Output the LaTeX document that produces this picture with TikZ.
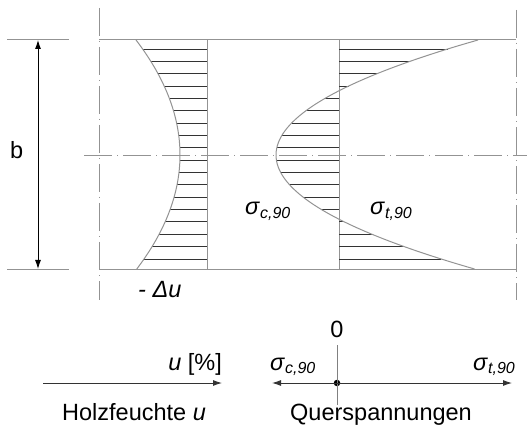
\documentclass[tikz,border=0pt]{standalone}
\usepackage{fontspec}
\setmainfont{Liberation Sans}
\usetikzlibrary{arrows.meta,positioning,calc}

% sigma with subscript index
\newcommand{\sigidx}[1]{\textit{σ}\raisebox{-0.3ex}{\fontsize{16}{16}\selectfont\textit{#1,90}}}

\begin{document}
\begin{tikzpicture}[
  x=1pt, y=-1pt,
  >={Latex[length=9pt,width=6pt]},
  font=\fontsize{23.5}{26}\selectfont,
  frame/.style={draw=gray!85, line width=1pt},
  axisline/.style={draw=gray!85, line width=0.9pt, dash pattern=on 28pt off 5pt on 1pt off 5pt},
  hatch/.style={draw=black!80, line width=0.8pt},
  curve/.style={draw=gray!85, line width=1pt},
  dim/.style={<->, line width=0.9pt},
  arr/.style={->, line width=0.9pt, draw=black!80},
  lbl/.style={inner sep=0pt},
]
\useasboundingbox (0,0) rectangle (527,430);

% Cross section edges
\coordinate (tl) at (99,40);
\coordinate (tr) at (516,40);
\coordinate (bl) at (99,269);
\coordinate (br) at (516,269);
\draw[frame] (tl) -- (tr);
\draw[frame] (bl) -- (br);

% Dimension b
\coordinate (et1) at (7,40);
\coordinate (et2) at (69,40);
\coordinate (eb1) at (7,269);
\coordinate (eb2) at (69,269);
\draw[frame] (et1) -- (et2);
\draw[frame] (eb1) -- (eb2);
\coordinate (dt) at (38,40);
\coordinate (db) at (38,269);
\draw[dim] (dt) -- (db);
\node[lbl, anchor=base west] (b) at (10,159) {b};

% Centre lines
\coordinate (cl1) at (99,8);
\coordinate (cl2) at (99,300);
\coordinate (cr1) at (516,10);
\coordinate (cr2) at (516,300);
\coordinate (ch1) at (84,155);
\coordinate (ch2) at (527,155);
\draw[axisline] (cl1) -- (cl2);
\draw[axisline] (cr1) -- (cr2);
\draw[axisline] (ch1) -- (ch2);

% Base lines of the two profiles
\coordinate (ut) at (207,40);
\coordinate (ub) at (207,269);
\coordinate (st) at (339,40);
\coordinate (sb) at (339,269);
\draw[frame] (ut) -- (ub);
\draw[frame] (st) -- (sb);

% Hatching
\foreach \k in {0,...,17} {
  \pgfmathsetmacro\yy{49+12.35*\k}
  \draw[hatch] ({180-0.00333*(\yy-155)^2},\yy) -- (207,\yy);
  \draw[hatch] (339,\yy) -- ({276+0.01527*(\yy-155)^2},\yy);
}

% Profiles
\draw[curve] plot[domain=40:269, samples=40, smooth] ({180-0.00333*(\x-155)^2},\x);
\draw[curve] plot[domain=40:269, samples=40, smooth] ({276+0.01527*(\x-155)^2},\x);

% Labels
\node[lbl, anchor=base west] (sc) at (245,215) {\sigidx{c}};
\node[lbl, anchor=base west] (stl) at (370,215) {\sigidx{t}};
\node[lbl, anchor=base west] (du) at (138,298) {\textit{- Δu}};

% Moisture axis
\coordinate (ua) at (43,383);
\coordinate (ue) at (222,383);
\draw[arr] (ua) -- (ue);
\node[lbl, anchor=base east] (uu) at (222,370) {\textit{u} [\%]};
\node[lbl, anchor=base west] (hf) at (62,420) {Holzfeuchte \textit{u}};

% Stress axis
\node[circle, fill=black, inner sep=0pt, minimum size=6.5pt] (o) at (337,383) {};
\coordinate (vt) at (337,345);
\coordinate (vb) at (337,405);
\draw[frame, draw=gray] (vt) -- (vb);
\coordinate (sl) at (272,383);
\coordinate (sr) at (512,383);
\draw[arr] (o.center) -- (sl);
\draw[arr] (o.center) -- (sr);
\node[lbl, anchor=base] (zero) at (337,337) {0};
\node[lbl, anchor=base west] (scx) at (270,370) {\sigidx{c}};
\node[lbl, anchor=base west] (stx) at (473,370) {\sigidx{t}};
\node[lbl, anchor=base west] (qs) at (290,420) {Querspannungen};
\end{tikzpicture}
\end{document}
